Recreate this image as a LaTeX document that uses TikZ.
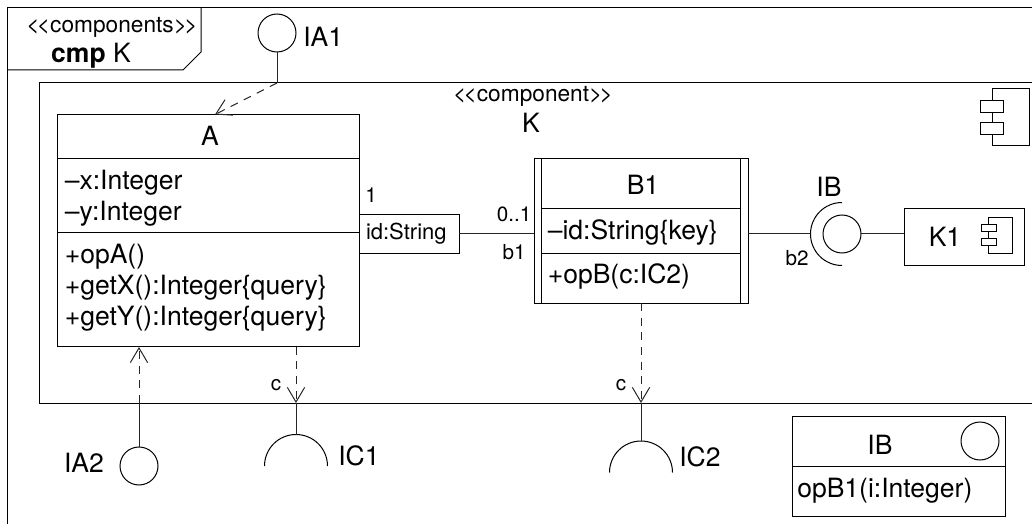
\documentclass[tikz,border=0pt]{standalone}
\usepackage{fontspec}
\setmainfont{TeX Gyre Heros}
\usetikzlibrary{arrows.meta}
\newcommand{\px}{0.75pt}
\newcommand{\gtwo}{>\kern-0.12em>}
\newcommand{\ltwo}{<\kern-0.12em<}
\tikzset{
  umltext/.style={font=\fontsize{19.9}{23}\selectfont,inner sep=0pt},
  smalltext/.style={font=\fontsize{15.5}{18}\selectfont,inner sep=0pt},
  stereo/.style={font=\fontsize{17}{18}\selectfont,inner sep=0pt},
  compart/.style={draw,line width=\px,inner sep=0pt,outer sep=0pt},
  member/.style={umltext,anchor=base west},
  iface/.style={draw,circle,line width=\px,minimum size=38*\px,inner sep=0pt,outer sep=0pt},
  frameline/.style={line width=\px},
  conn/.style={line width=\px,black!85},
  dep/.style={conn,dash pattern=on 6pt off 5pt,
    -{Straight Barb[length=11pt,width=13pt,line width=\px]}},
  iconbox/.style={draw,fill=white,line width=\px}
}
\begin{document}
\begin{tikzpicture}[x=\px,y=-\px]
\useasboundingbox (0,0) rectangle (1032,524);
% ---------- frame ----------
\draw[frameline] (7,524) -- (7,8) -- (1032,8);
\draw[frameline] (7,70) -- (183,70) -- (201,52) -- (201,8);
\node[stereo] (stereoK) at (112,27) {\ltwo components\gtwo};
\node[umltext] (nameK) at (91,56) {\textbf{cmp} K};
% ---------- component K ----------
\draw[frameline] (1032,83) -- (39,83) -- (39,403) -- (1032,403);
\node[stereo] (stereoInner) at (533,96) {\ltwo component\gtwo};
\node[umltext] (nameInner) at (531,123) {K};
\draw[iconbox] (992,89) rectangle (1029,146);
\foreach \y in {101,123} {\draw[iconbox] (980,\y) rectangle (1003,\y+11.5);}
% ---------- class A ----------
\node[compart,minimum width=301.5*\px,minimum height=44*\px] (Ahead) at (208.25,136.5) {};
\node[compart,minimum width=301.5*\px,minimum height=74.5*\px] (Aattr) at (208.25,195.75) {};
\node[compart,minimum width=301.5*\px,minimum height=113.5*\px] (Aop) at (208.25,289.75) {};
\node[umltext,anchor=base] (Aname) at (210,146) {A};
\foreach \y/\txt in {190/{–x:Integer},221/{–y:Integer},263/{+opA()},
    294/{+getX():Integer\{query\}},325/{+getY():Integer\{query\}}}
  {\node[member] (Aline\y) at (64.5,\y) {\txt};}
% ---------- class B1 ----------
\node[compart,minimum width=199*\px,minimum height=50*\px] (Bhead) at (640.5,184) {};
\node[compart,minimum width=199*\px,minimum height=44*\px] (Battr) at (640.5,231) {};
\node[compart,minimum width=199*\px,minimum height=50*\px] (Bop) at (640.5,278) {};
\draw[frameline] (534,159) rectangle (748,303);
\node[umltext,anchor=base] (Bname) at (643,195) {B1};
\node[member] (Bline) at (547.5,239) {–id:String\{key\}};
\node[member] (Bopline) at (547.5,283.5) {+opB(c:IC2)};
% ---------- qualifier, association ----------
\node[draw,line width=\px,text width=86*\px,inner xsep=5.25pt,inner ysep=0pt,minimum height=38*\px,
  outer sep=0pt,align=left,font=\fontsize{16.5}{18}\selectfont] (qual) at (409,234) {id:String};
\coordinate (Bleft) at (534,234);
\draw[conn] (qual.east) -- (Bleft);
\node[smalltext] (mulOne) at (371,195) {1};
\node[smalltext] (mulB) at (514,214) {0..1};
\node[smalltext] (roleB) at (514,252) {b1};
% ---------- K1 and IB ----------
\node[iface] (IBball) at (842,234) {};
\coordinate (IBsocket) at (811,234);
\draw[line width=\px] (842,202.5) arc[start angle=90,end angle=270,radius=31.5*\px];
\node[compart,minimum width=120*\px,minimum height=56*\px] (Kone) at (964,237) {};
\node[umltext,anchor=base] (KoneName) at (945,246.5) {K1};
\draw[iconbox] (988,218) rectangle (1012,253);
\foreach \y in {225,239} {\draw[iconbox] (981,\y) rectangle (996,\y+7);}
\coordinate (Bright) at (748,234);
\draw[conn] (Bright) -- (IBsocket);
\draw[conn] (IBball.east) -- (Kone.west |- IBball.east);
\node[umltext] (IBlab) at (829,187) {IB};
\node[smalltext] (roleBtwo) at (797,258) {b2};
% ---------- provided interfaces ----------
\node[iface] (IAone) at (277,33) {};
\node[umltext,anchor=west] (IAoneLab) at (303,37) {IA1};
\coordinate (IAoneport) at (277,83);
\coordinate (IAonetip) at (215,114.5);
\draw[conn] (IAone.south) -- (IAoneport);
\draw[dep] (IAoneport) -- (IAonetip);
\node[iface] (IAtwo) at (139,466) {};
\node[umltext] (IAtwoLab) at (84,463) {IA2};
\coordinate (IAtwoport) at (139,403);
\coordinate (IAtwotip) at (139,347);
\draw[conn] (IAtwo.north) -- (IAtwoport);
\draw[dep] (IAtwoport) -- (IAtwotip);
% ---------- required interfaces ----------
\coordinate (IConeport) at (296,403);
\coordinate (ICtwoport) at (641,403);
\coordinate (ICone) at (296,434.5);
\coordinate (ICtwo) at (641,441);
\draw[line width=\px] (264.5,466) arc[start angle=180,end angle=0,radius=31.5*\px];
\draw[line width=\px] (609.5,472.5) arc[start angle=180,end angle=0,radius=31.5*\px];
\draw[conn] (IConeport) -- (ICone);
\draw[conn] (ICtwoport) -- (ICtwo);
\draw[dep] (Aop.south -| IConeport) -- (IConeport);
\draw[dep] (Bop.south -| ICtwoport) -- (ICtwoport);
\node[smalltext] (reqone) at (276,385) {c};
\node[smalltext] (reqtwo) at (621,385) {c};
\node[umltext] (IConeLab) at (359,456) {IC1};
\node[umltext] (ICtwoLab) at (700,457) {IC2};
% ---------- interface IB ----------
\node[compart,minimum width=213*\px,minimum height=50*\px] (IBhead) at (898.5,441) {};
\node[umltext,anchor=base] (IBname) at (880,454) {IB};
\node[iface] (IBcircle) at (980,441) {};
\node[compart,minimum width=213*\px,minimum height=50*\px] (IBop) at (898.5,491) {};
\node[member] (IBline) at (797,497.5) {opB1(i:Integer)};
\end{tikzpicture}
\end{document}
